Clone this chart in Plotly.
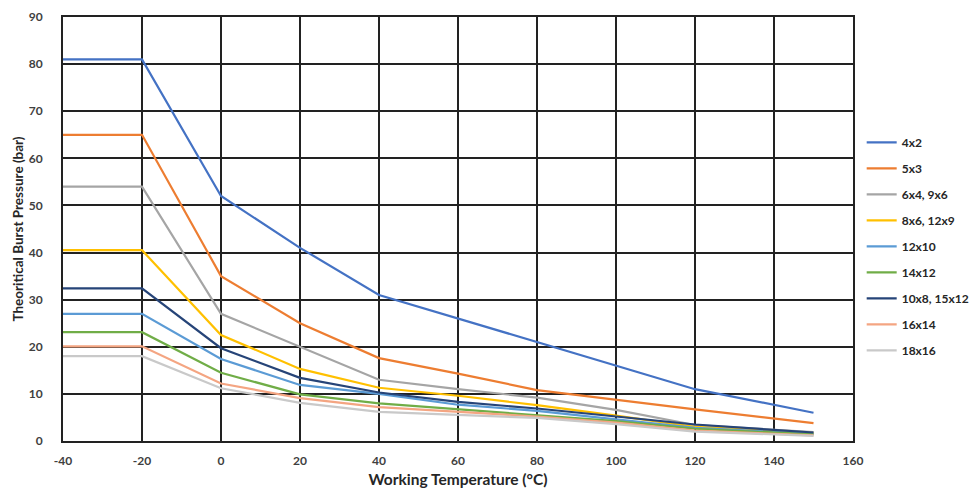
import plotly.graph_objects as go

temps = [-40, -20, 0, 20, 40, 60, 80, 100, 120, 150]

x_ticks = [-40, -20, 0, 20, 40, 60, 80, 100, 120, 140, 160]
x_tick_labels = ["-40", "-20", "0", "20", "40", "60", "80", "100", "120", "140", "160"]

names = ["4x2", "5x3", "6x4, 9x6", "8x6, 12x9", "12x10", "14x12",
         "10x8, 15x12", "16x14", "18x16"]

p_4x2 = [81, 81, 52, 41, 31, 26, 21, 16, 11, 6]
p_5x3 = [65, 65, 35, 25, 17.6, 14.3, 10.8, 8.7, 6.7, 3.8]
p_6x4 = [54, 54, 27, 20, 13, 11, 9.2, 6.6, 3.4, 1.9]
p_8x6 = [40.5, 40.5, 22.5, 15.3, 11.3, 9.6, 7.6, 5.4, 3.0, 1.7]
p_12x10 = [27, 27, 17.4, 11.9, 10, 7.7, 6.4, 4.6, 2.8, 1.5]
p_14x12 = [23.1, 23.1, 14.5, 9.9, 8.0, 6.7, 5.5, 4.2, 2.6, 1.4]
p_10x8 = [32.4, 32.4, 19.7, 13.4, 10.3, 8.3, 6.9, 5.2, 3.5, 1.8]
p_16x14 = [20.1, 20.1, 12.2, 9.1, 7.2, 6.2, 5.2, 3.9, 2.2, 1.2]
p_18x16 = [18, 18, 11.2, 8.1, 6.2, 5.6, 4.9, 3.6, 2.0, 1.1]

series = [p_4x2, p_5x3, p_6x4, p_8x6, p_12x10, p_14x12, p_10x8, p_16x14, p_18x16]
colors = ["#4472C4", "#ED7D31", "#A5A5A5", "#FFC000", "#5B9BD5", "#70AD47",
          "#264478", "#F4A582", "#C9C9C9"]

fig = go.Figure()
for name, vals, col in zip(names, series, colors):
    fig.add_trace(go.Scatter(x=temps, y=vals, name=name, mode="lines",
                             line=dict(color=col, width=2.2),
                             legendgroup=name))

axis_font = dict(family="Lato, Arial", size=12, color="#404040", weight="bold")
fig.update_layout(
    width=980, height=490,
    margin=dict(l=63, r=127, t=17, b=49, autoexpand=False),
    plot_bgcolor="white", paper_bgcolor="white",
    font=dict(family="Lato, Arial", size=12, color="#404040"),
    legend=dict(x=1.011, y=0.459, yanchor="middle", xanchor="left",
                font=dict(family="Lato, Arial", size=12, color="#262626", weight="bold"),
                tracegroupgap=7, bgcolor="rgba(0,0,0,0)"),
    xaxis=dict(range=[-40, 160], tickvals=x_ticks, ticktext=x_tick_labels,
               showgrid=True, gridcolor="#222222", gridwidth=1.5, zeroline=False,
               showline=True, linecolor="#222222", linewidth=2, mirror=True,
               ticks="outside", ticklen=8, tickcolor="rgba(0,0,0,0)",
               automargin=False, tickfont=axis_font,
               title=dict(text="Working Temperature (°C)", standoff=7,
                          font=dict(family="Lato, Arial", size=15.5, color="#262626", weight="bold"))),
    yaxis=dict(range=[0, 90], dtick=10, showgrid=True,
               gridcolor="#222222", gridwidth=1.5, zeroline=False,
               showline=True, linecolor="#222222", linewidth=2, mirror=True,
               ticks="outside", ticklen=16, tickcolor="rgba(0,0,0,0)",
               automargin=False, tickfont=axis_font,
               title=dict(text="Theoritical Burst Pressure (bar)", standoff=2,
                          font=dict(family="Lato, Arial", size=13.5, color="#262626", weight="bold"))),
)

# drop the default page margin so the figure sits at the window's corner
fig.write_html("out.html", config={"displayModeBar": False},
               post_script="document.body.style.margin='0';")
